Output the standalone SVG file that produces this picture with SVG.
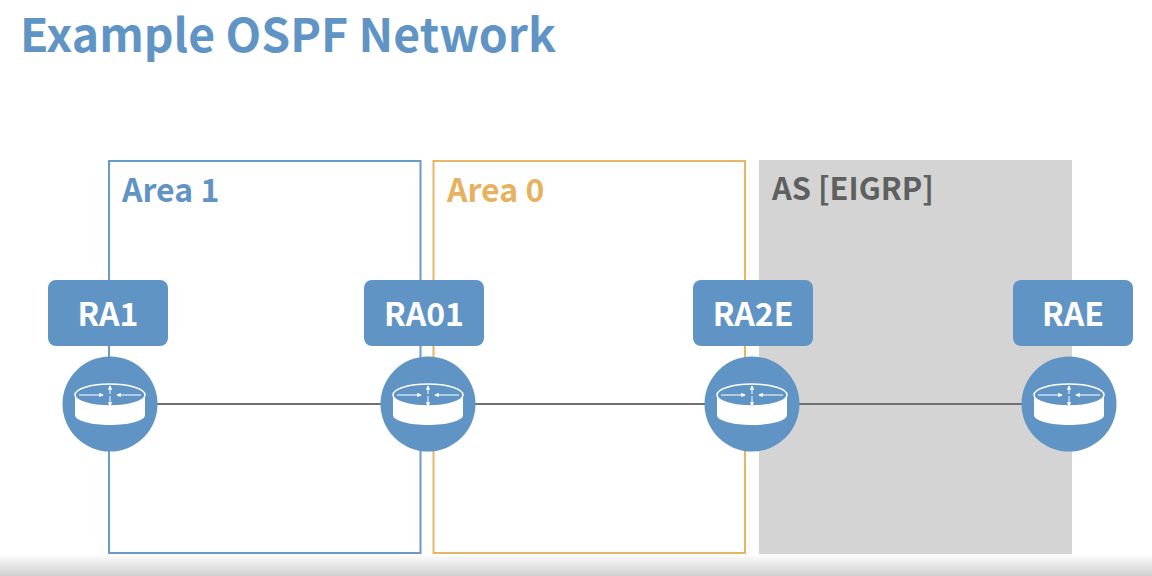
<svg xmlns="http://www.w3.org/2000/svg" width="1152" height="576" viewBox="0 0 1152 576">
<style>
.t{font-family:"Noto Sans CJK SC","Noto Sans",sans-serif;font-weight:700}
.lab{font-size:32px;fill:#fff;text-anchor:middle}
.area{font-size:32px}
.box{fill:#5f94c5;stroke:none}
.link{stroke:#707070;stroke-width:2.2;fill:none}
.ar{stroke:#fff;stroke-width:1;fill:none;marker-end:url(#aw)}
</style>
<defs>
<linearGradient id="fade" x1="0" y1="0" x2="0" y2="1"><stop offset="0" stop-color="#fff"/><stop offset="1" stop-color="#cfcfcf"/></linearGradient>
<marker id="aw" viewBox="0 0 6 6" refX="5" refY="3" markerWidth="4.500" markerHeight="4.500" orient="auto"><path d="M0 0L6 3L0 6Z" fill="#fff"/></marker>
<g id="router">
<circle r="47.500" fill="#5f94c5"/>
<path d="M-35 -9V11C-35 17 -18 21 0 21S35 17 35 11V-9Z" fill="#fff"/>
<ellipse cy="-9" rx="35" ry="11" fill="#5f94c5" stroke="#fff" stroke-width="1.500"/>
<path class="ar" d="M-31 -9H-7"/>
<path class="ar" d="M31 -9H7"/>
<path class="ar" d="M0 -10V-18"/>
<path class="ar" d="M0 -8V2"/>
</g>
</defs>
<rect width="1152" height="576" fill="#fff"/>
<rect y="554" width="1152" height="22" fill="url(#fade)"/>
<text class="t" x="20" y="52" font-size="46.300" fill="#5f94c5">Example OSPF Network</text>
<g id="area1"><rect x="109" y="161" width="311.500" height="392" fill="none" stroke="#6a9ac8" stroke-width="2"/><text class="t area" x="122" y="202" fill="#5f94c5">Area 1</text></g>
<g id="area0"><rect x="433.500" y="161" width="311.500" height="392" fill="none" stroke="#e6b566" stroke-width="2"/><text class="t area" x="447" y="202" fill="#e6b25f">Area 0</text></g>
<g id="as"><rect x="759" y="160" width="313" height="394" fill="#d4d4d4"/><text class="t" x="772" y="200" font-size="30.800" fill="#5f5f5f">AS [EIGRP]</text></g>
<g id="connectors">
<path class="link" d="M157 404H381M475 404H705M799 404H1022"/>
</g>
<g id="RA1"><rect class="box" x="48" y="280" width="120" height="66" rx="8"/><text class="t lab" x="108" y="326">RA1</text><use href="#router" x="110" y="404"/></g>
<g id="RA01"><rect class="box" x="364" y="280" width="120" height="66" rx="8"/><text class="t lab" x="424" y="326">RA01</text><use href="#router" x="428" y="404"/></g>
<g id="RA2E"><rect class="box" x="693" y="280" width="120" height="66" rx="8"/><text class="t lab" x="753" y="326">RA2E</text><use href="#router" x="752" y="404"/></g>
<g id="RAE"><rect class="box" x="1013" y="280" width="120" height="66" rx="8"/><text class="t lab" x="1073" y="326">RAE</text><use href="#router" x="1069" y="404"/></g>
</svg>
